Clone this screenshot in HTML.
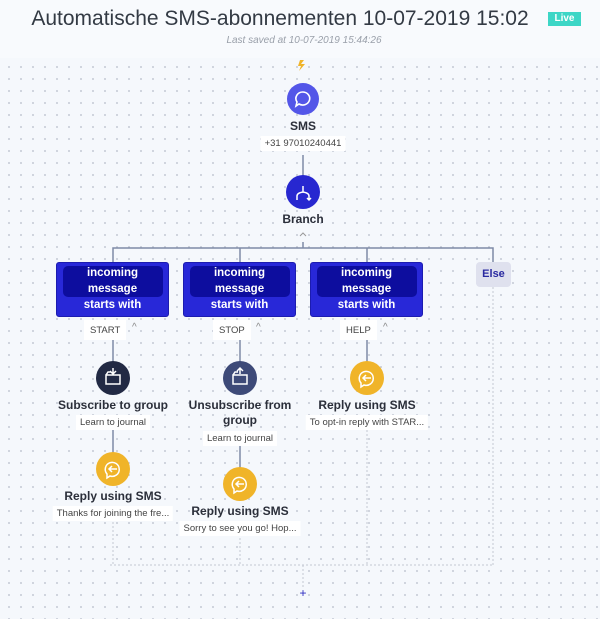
<!DOCTYPE html>
<html><head><meta charset="utf-8"><style>
*{margin:0;padding:0;box-sizing:border-box}
body{width:600px;height:619px;overflow:hidden;font-family:"Liberation Sans",sans-serif;background:#f5f8fc;position:relative}
.hdr{position:absolute;left:0;top:0;width:600px;height:58px;background:#f8fafd}
.canvas{position:absolute;left:0;top:58px;width:600px;height:561px;background-image:radial-gradient(circle,#c9ced8 0.8px,transparent 1.2px);background-size:12px 12px;background-position:3px 3px}
.a{position:absolute}
.title{left:0;width:560px;top:7px;text-align:center;font-size:21px;color:#333a44}
.live{left:548px;top:12px;width:33px;height:14px;background:#3dd6c6;color:#fff;font-size:10px;text-align:center;line-height:14px;font-weight:bold}
.saved{left:0;width:608px;top:35px;text-align:center;font-size:10px;font-style:italic;color:#9aa0aa}
.lbl{position:absolute;text-align:center;font-weight:bold;font-size:12px;color:#2b2f3a;transform:translateX(-50%);white-space:nowrap;line-height:15px}
.sub{position:absolute;text-align:center;font-size:9.5px;color:#444;background:#fff;transform:translateX(-50%);white-space:nowrap;padding:1px 4px;line-height:13px}
.box{position:absolute;width:113px;height:55px;background:#2828d8;border-radius:3px;border:1px solid #1c1cb0}
.box .in{position:absolute;left:6px;top:3px;width:100px;height:31px;background:#0d0d9e;border-radius:5px}
.box .t{position:absolute;left:0;top:2px;width:100%;text-align:center;color:#fff;font-weight:bold;font-size:11.5px;line-height:16px}
.tag{position:absolute;background:#fff;font-size:9.5px;color:#444;height:20px;line-height:21px;padding:0 6px}
.car{position:absolute;font-size:10px;color:#888}
</style></head><body>
<div class="hdr"></div>
<div class="canvas"></div>
<div class="a title">Automatische SMS-abonnementen 10-07-2019 15:02</div>
<div class="a live">Live</div>
<div class="a saved">Last saved at 10-07-2019 15:44:26</div>

<svg class="a" style="left:0;top:0" width="600" height="619">
<g stroke="#7e8aa6" stroke-width="1.5" fill="none">
<line x1="303" y1="155" x2="303" y2="177"/>
<path d="M113 262 V248 H493 V262"/>
<line x1="240" y1="248" x2="240" y2="262"/>
<line x1="367" y1="248" x2="367" y2="262"/>
<line x1="303" y1="242" x2="303" y2="248"/>
<line x1="113" y1="340" x2="113" y2="362"/>
<line x1="240" y1="340" x2="240" y2="362"/>
<line x1="367" y1="340" x2="367" y2="362"/>
<line x1="113" y1="430" x2="113" y2="453"/>
<line x1="240" y1="446" x2="240" y2="468"/>
</g>
<g stroke="#c2c7d2" stroke-width="1" stroke-dasharray="2,2" fill="none">
<line x1="113" y1="522" x2="113" y2="565"/>
<line x1="240" y1="538" x2="240" y2="565"/>
<line x1="367" y1="430" x2="367" y2="565"/>
<line x1="493" y1="287" x2="493" y2="565"/>
<line x1="110" y1="565" x2="493" y2="565"/>
<line x1="303" y1="565" x2="303" y2="588"/>
</g>
<text x="303" y="597" font-size="12" fill="#2a2ac0" text-anchor="middle" font-family="Liberation Sans">+</text>
<path d="M300 60 l4 0 -3 4 4 0 -6 7 2-5 -3 0z" fill="#f0b429"/>
<circle cx="303" cy="99" r="16" fill="#5356e8"/>
<path d="M303 92 a7 6.5 0 1 1 -4 12 l-3 2 1-4 a7 6.5 0 0 1 6 -10z" fill="none" stroke="#fff" stroke-width="1.6"/>
<circle cx="303" cy="192" r="17" fill="#2727d0"/>
<path d="M303 186 v6 M297 200 v-4 q0-3 6-4 q6 1 6 4 v4 M307 198 l2 2 2-2" fill="none" stroke="#fff" stroke-width="1.5"/>
<path d="M300 236 l3-3 3 3" fill="none" stroke="#999" stroke-width="1"/>
<circle cx="113" cy="378" r="17" fill="#222a44"/>
<circle cx="240" cy="378" r="17" fill="#3d4a78"/>
<circle cx="367" cy="378" r="17" fill="#f0b429"/>
<circle cx="113" cy="469" r="17" fill="#f0b429"/>
<circle cx="240" cy="484" r="17" fill="#f0b429"/>
<g fill="none" stroke="#fff" stroke-width="1.5">
<path d="M106 375 h14 v9 h-14z M106 375 l2-3 h3 M113 368 v6 M110 371 l3 3 3-3"/>
<path d="M233 375 h14 v9 h-14z M233 375 l2-3 h3 M240 374 v-6 M237 371 l3-3 3 3"/>
<path d="M361 383 a7 7 0 1 1 3 2 l-3 2z M363 378 h8 M366 375 l-3 3 3 3"/>
<path d="M107 474 a7 7 0 1 1 3 2 l-3 2z M109 469 h8 M112 466 l-3 3 3 3"/>
<path d="M234 489 a7 7 0 1 1 3 2 l-3 2z M236 484 h8 M239 481 l-3 3 3 3"/>
</g>
</svg>

<div class="lbl" style="left:303px;top:119px">SMS</div>
<div class="sub" style="left:303px;top:136px;background:#fff">+31 97010240441</div>
<div class="lbl" style="left:303px;top:212px">Branch</div>

<div class="box" style="left:56px;top:262px"><div class="in"></div><div class="t">incoming<br>message<br>starts with</div></div>
<div class="box" style="left:183px;top:262px"><div class="in"></div><div class="t">incoming<br>message<br>starts with</div></div>
<div class="box" style="left:310px;top:262px"><div class="in"></div><div class="t">incoming<br>message<br>starts with</div></div>
<div class="a" style="left:476px;top:262px;width:35px;height:25px;background:#dfe1ee;border-radius:4px;color:#2a2aa0;font-weight:bold;font-size:11px;text-align:center;line-height:25px">Else</div>

<div class="tag" style="left:84px;top:320px">START</div><div class="car" style="left:132px;top:322px">^</div>
<div class="tag" style="left:213px;top:320px">STOP</div><div class="car" style="left:256px;top:322px">^</div>
<div class="tag" style="left:340px;top:320px">HELP</div><div class="car" style="left:383px;top:322px">^</div>

<div class="lbl" style="left:113px;top:398px">Subscribe to group</div>
<div class="sub" style="left:113px;top:415px">Learn to journal</div>
<div class="lbl" style="left:240px;top:398px">Unsubscribe from<br>group</div>
<div class="sub" style="left:240px;top:431px">Learn to journal</div>
<div class="lbl" style="left:367px;top:398px">Reply using SMS</div>
<div class="sub" style="left:367px;top:415px">To opt-in reply with STAR...</div>
<div class="lbl" style="left:113px;top:489px">Reply using SMS</div>
<div class="sub" style="left:113px;top:506px">Thanks for joining the fre...</div>
<div class="lbl" style="left:240px;top:504px">Reply using SMS</div>
<div class="sub" style="left:240px;top:521px">Sorry to see you go! Hop...</div>
</body></html>
